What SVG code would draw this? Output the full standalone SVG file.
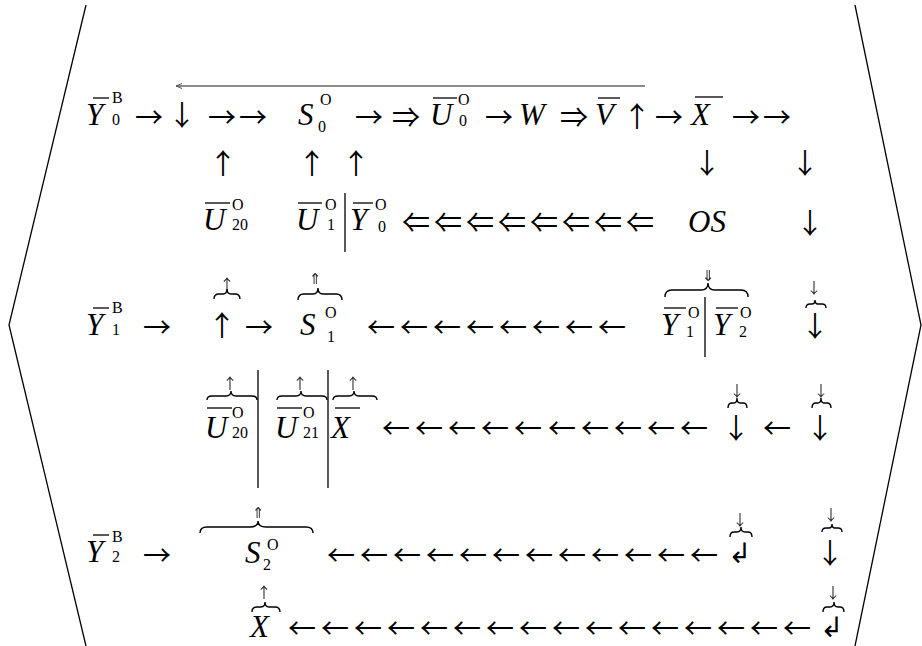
<svg xmlns="http://www.w3.org/2000/svg" width="922" height="646" viewBox="0 0 922 646">
<style>
.m{font-family:"Liberation Serif","DejaVu Serif",serif;font-style:italic;font-size:31px;fill:#000}
.s{font-family:"Liberation Serif","DejaVu Serif",serif;font-size:16px;fill:#000}
.a{font-family:"Noto Sans CJK JP","DejaVu Sans",sans-serif;font-size:28px;fill:#000}
.v{font-family:"Noto Sans CJK JP","DejaVu Sans",sans-serif;font-size:28px;fill:#000;text-anchor:middle}
.sa{font-family:"Noto Sans CJK JP","DejaVu Sans",sans-serif;font-size:15px;fill:#222;text-anchor:middle;filter:url(#flat)}
.ln{stroke:#000;stroke-width:1.3;fill:none}
.br{stroke:#000;stroke-width:1.4;fill:none}
</style>
<defs>
<filter id="flat" x="-50%" y="-50%" width="200%" height="200%"><feOffset dx="0" dy="0"/></filter>
<marker id="ah" markerWidth="8" markerHeight="6" refX="1" refY="3" orient="auto" markerUnits="userSpaceOnUse">
<path d="M7,0.5 L1,3 L7,5.5" fill="none" stroke="#555" stroke-width="1"/>
</marker>
</defs>
<g id="frame">
<polyline class="ln" points="86,5 9,325 86,646"/>
<polyline class="ln" points="855,5 921,325 855,646"/>
</g>
<g id="connectors">
<line x1="176" y1="86" x2="645" y2="86" stroke="#666" stroke-width="1.5" marker-start="url(#ah)"/>
</g>
<g id="row1">
<g id="Y0B"><text class="m" x="86" y="125">Y</text><line class="ln" x1="93" y1="98" x2="109" y2="98"/><text class="s" x="112" y="103">B</text><text class="s" x="112" y="125">0</text></g>
<text class="a" x="135" y="128">→</text>
<text class="v" x="182" y="126">↓</text>
<text class="a" x="208 239" y="128">→→</text>
<g id="S0O"><text class="m" x="298" y="125">S</text><text class="s" x="320" y="105">O</text><text class="s" x="318" y="132">0</text></g>
<text class="a" x="355 392" y="128">→⇒</text>
<g id="U0O"><text class="m" x="430" y="125">U</text><line class="ln" x1="433" y1="98" x2="457" y2="98"/><text class="s" x="458" y="105">O</text><text class="s" x="459" y="126">0</text></g>
<text class="a" x="485" y="128">→</text>
<g id="W"><text class="m" x="519" y="125">W</text></g>
<text class="a" x="560" y="128">⇒</text>
<g id="V"><text class="m" x="595" y="125">V</text><line class="ln" x1="598" y1="98" x2="620" y2="98"/></g>
<text class="v" x="637" y="127">↑</text>
<text class="a" x="655" y="128">→</text>
<g id="X1"><text class="m" x="691" y="125">X</text><line class="ln" x1="695" y1="97" x2="723" y2="97"/></g>
<text class="a" x="732 763" y="128">→→</text>
</g>
<g id="row2">
<text class="v" x="223" y="174">↑</text>
<text class="v" x="312" y="174">↑</text>
<text class="v" x="356" y="174">↑</text>
<text class="v" x="707" y="174">↓</text>
<text class="v" x="805" y="174">↓</text>
</g>
<g id="row3">
<g id="U20O_a"><text class="m" x="203" y="230">U</text><line class="ln" x1="205" y1="203" x2="230" y2="203"/><text class="s" x="232" y="210">O</text><text class="s" x="232" y="230">20</text></g>
<g id="U1O_Y0O"><text class="m" x="296" y="230">U</text><line class="ln" x1="298" y1="203" x2="322" y2="203"/><text class="s" x="325" y="210">O</text><text class="s" x="327" y="230">1</text>
<line class="ln" x1="345" y1="193" x2="345" y2="252"/>
<text class="m" x="350" y="230">Y</text><line class="ln" x1="353" y1="203" x2="373" y2="203"/><text class="s" x="375" y="210">O</text><text class="s" x="378" y="232">0</text></g>
<text class="a" x="402 434 466 498 530 562 594 626" y="233">⇐⇐⇐⇐⇐⇐⇐⇐</text>
<g id="OS"><text class="m" x="688" y="232">OS</text></g>
<text class="v" x="810" y="234">↓</text>
</g>
<g id="row4">
<g id="Y1B"><text class="m" x="86" y="335">Y</text><line class="ln" x1="93" y1="308" x2="109" y2="308"/><text class="s" x="112" y="313">B</text><text class="s" x="112" y="335">1</text></g>
<text class="a" x="143" y="338">→</text>
<g id="upbrace1"><text class="sa" x="227" y="290">↑</text><path class="br" d="M214,299 Q214,294 219,294 L223,294 Q227,294 227,289 Q227,294 231,294 L235,294 Q240,294 240,299"/><text class="v" x="222" y="336">↑</text></g>
<text class="a" x="245" y="338">→</text>
<g id="S1O"><text class="sa" x="315" y="284">⇑</text><path class="br" d="M298,300 Q298,294 304,294 L313,294 Q318,294 318,288 Q318,294 323,294 L336,294 Q342,294 342,300"/><text class="m" x="300" y="335">S</text><text class="s" x="325" y="318">O</text><text class="s" x="327" y="342">1</text></g>
<text class="a" x="367 400 433 466 499 532 565 598" y="338">←←←←←←←←</text>
<g id="Y1O_Y2O"><text class="sa" x="708" y="281">⇓</text><path class="br" d="M665,297 Q665,290 672,290 L701,290 Q708,290 708,283 Q708,290 715,290 L741,290 Q748,290 748,297"/>
<text class="m" x="661" y="335">Y</text><line class="ln" x1="664" y1="308" x2="686" y2="308"/><text class="s" x="688" y="318">O</text><text class="s" x="686" y="337">1</text>
<line class="ln" x1="705" y1="297" x2="705" y2="357"/>
<text class="m" x="713" y="335">Y</text><line class="ln" x1="716" y1="308" x2="738" y2="308"/><text class="s" x="740" y="318">O</text><text class="s" x="739" y="337">2</text></g>
<g id="down4"><text class="sa" x="814" y="293">↓</text><path class="br" d="M806,308 Q806,304 810,304 L812,304 Q815,304 815,300 Q815,304 818,304 L822,304 Q826,304 826,308"/><text class="v" x="815" y="337">↓</text></g>
</g>
<g id="row5">
<g id="U20O_b"><text class="sa" x="230" y="389">↑</text><path class="br" d="M207,400 Q207,396 212,396 L226,396 Q231,396 231,391 Q231,396 236,396 L252,396 Q257,396 257,400"/>
<text class="m" x="205" y="438">U</text><line class="ln" x1="207" y1="408" x2="232" y2="408"/><text class="s" x="232" y="418">O</text><text class="s" x="232" y="438">20</text></g>
<line class="ln" x1="258" y1="370" x2="258" y2="488"/>
<g id="U21O"><text class="sa" x="300" y="389">↑</text><path class="br" d="M277,400 Q277,396 282,396 L296,396 Q301,396 301,391 Q301,396 306,396 L322,396 Q327,396 327,400"/>
<text class="m" x="275" y="438">U</text><line class="ln" x1="277" y1="408" x2="302" y2="408"/><text class="s" x="303" y="418">O</text><text class="s" x="303" y="438">21</text></g>
<line class="ln" x1="328" y1="370" x2="328" y2="488"/>
<g id="X5"><text class="sa" x="353" y="389">↑</text><path class="br" d="M333,400 Q333,396 338,396 L349,396 Q354,396 354,391 Q354,396 359,396 L372,396 Q377,396 377,400"/>
<text class="m" x="331" y="438">X</text><line class="ln" x1="335" y1="408" x2="360" y2="408"/></g>
<text class="a" x="382 415 448 481 514 548 581 614 647 680" y="439">←←←←←←←←←←</text>
<g id="down5a"><text class="sa" x="737" y="396">↓</text><path class="br" d="M728,408 Q728,403 732,403 L734,403 Q737,403 737,398 Q737,403 740,403 L743,403 Q747,403 747,408"/><text class="v" x="736" y="439">↓</text></g>
<text class="a" x="763" y="439">←</text>
<g id="down5b"><text class="sa" x="821" y="396">↓</text><path class="br" d="M812,408 Q812,403 816,403 L818,403 Q821,403 821,398 Q821,403 824,403 L827,403 Q831,403 831,408"/><text class="v" x="820" y="439">↓</text></g>
</g>
<g id="row6">
<g id="Y2B"><text class="m" x="86" y="562">Y</text><line class="ln" x1="93" y1="535" x2="109" y2="535"/><text class="s" x="112" y="542">B</text><text class="s" x="112" y="562">2</text></g>
<text class="a" x="143" y="566">→</text>
<g id="S2O"><text class="sa" x="258" y="518">⇑</text><path class="br" d="M200,533 Q200,527 207,527 L250,527 Q258,527 258,521 Q258,527 266,527 L306,527 Q313,527 313,533"/>
<text class="m" x="245" y="563">S</text><text class="s" x="267" y="550">O</text><text class="s" x="263" y="570">2</text></g>
<text class="a" x="327 360 393 426 459 492 525 558 591 624 657 690" y="566">←←←←←←←←←←←←</text>
<g id="ret6"><text class="sa" x="740" y="525">↓</text><path class="br" d="M730,537 Q730,532 734,532 L737,532 Q741,532 741,527 Q741,532 745,532 L748,532 Q752,532 752,537"/><text class="v" x="740" y="563">↲</text></g>
<g id="down6"><text class="sa" x="831" y="520">↓</text><path class="br" d="M822,532 Q822,528 826,528 L829,528 Q832,528 832,524 Q832,528 835,528 L838,528 Q842,528 842,532"/><text class="v" x="830" y="564">↓</text></g>
</g>
<g id="row7">
<g id="X7"><text class="sa" x="264" y="598">↑</text><path class="br" d="M252,612 Q252,607 257,607 L261,607 Q265,607 265,602 Q265,607 269,607 L275,607 Q280,607 280,612"/><text class="m" x="250" y="637">X</text></g>
<text class="a" x="288 321 354 387 420 453 486 519 552 585 618 651 684 717 750 783" y="639">←←←←←←←←←←←←←←←←</text>
<g id="ret7"><text class="sa" x="833" y="598">↓</text><path class="br" d="M823,612 Q823,607 827,607 L830,607 Q834,607 834,602 Q834,607 838,607 L840,607 Q844,607 844,612"/><text class="v" x="832" y="637">↲</text></g>
</g>
</svg>
